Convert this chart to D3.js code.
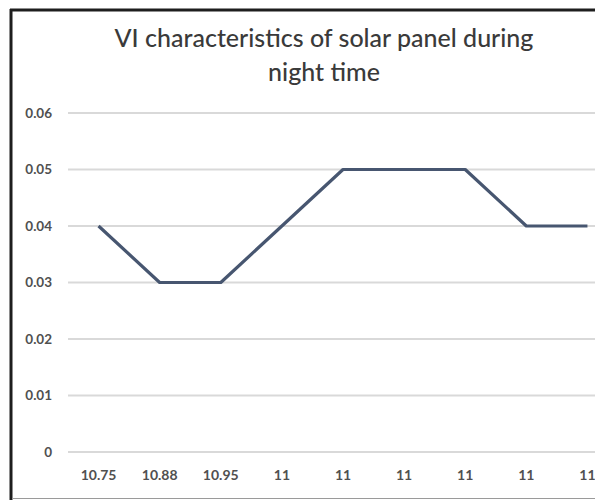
<!DOCTYPE html>
<html>
<head>
<meta charset="utf-8">
<script src="https://cdn.jsdelivr.net/npm/d3@7"></script>
<style>
  html, body { margin: 0; padding: 0; background: #fff; overflow: hidden; }
  svg { display: block; }
</style>
</head>
<body>
<svg id="chart" width="595" height="501"></svg>
<script>
const titleLines = ["VI characteristics of solar panel during", "night time"];
const categories = ["10.75", "10.88", "10.95", "11", "11", "11", "11", "11", "11"];
const values = [0.04, 0.03, 0.03, 0.04, 0.05, 0.05, 0.05, 0.04, 0.04];
const yTicks = [0, 0.01, 0.02, 0.03, 0.04, 0.05, 0.06];

const svg = d3.select("#chart");
const W = 595, H = 501;
const font = "Lato, 'Open Sans', sans-serif";

svg.append("rect").attr("width", W).attr("height", H).attr("fill", "#fff");

// frame
svg.append("line").attr("x1", 11).attr("x2", 11).attr("y1", 9).attr("y2", 500)
  .attr("stroke", "#1e1e1e").attr("stroke-width", 3);
svg.append("line").attr("x1", 10).attr("x2", W).attr("y1", 10).attr("y2", 10)
  .attr("stroke", "#1e1e1e").attr("stroke-width", 3);
svg.append("line").attr("x1", 12).attr("x2", W).attr("y1", 498.5).attr("y2", 498.5)
  .attr("stroke", "#9a9a9a").attr("stroke-width", 1.2);

const x = d3.scaleBand().domain(d3.range(categories.length)).range([68, 618]);
const y = d3.scaleLinear().domain([0, 0.06]).range([452, 113]);

// gridlines
svg.append("g").selectAll("line").data(yTicks).join("line")
  .attr("x1", 68).attr("x2", 618)
  .attr("y1", d => y(d)).attr("y2", d => y(d))
  .attr("stroke", "#d9d9d9").attr("stroke-width", 1.8);

// y axis
const yAxis = d3.axisLeft(y).tickValues(yTicks).tickSize(0).tickPadding(0)
  .tickFormat(d => d === 0 ? "0" : d3.format(".2f")(d));
const gy = svg.append("g").attr("transform", "translate(52,0)").call(yAxis);
gy.select(".domain").remove();
gy.selectAll("text").attr("font-family", font).attr("font-size", 13.5)
  .attr("font-weight", 700).attr("fill", "#505050");

// x axis
const xAxis = d3.axisBottom(x).tickSize(0).tickPadding(0)
  .tickFormat(i => categories[i]);
const gx = svg.append("g").attr("transform", "translate(0,470)").call(xAxis);
gx.select(".domain").remove();
gx.selectAll("text").attr("font-family", font).attr("font-size", 14)
  .attr("font-weight", 700).attr("fill", "#505050");

// line
const line = d3.line().x((d, i) => x(i) + x.bandwidth() / 2).y(d => y(d));
svg.append("path").datum(values).attr("d", line)
  .attr("fill", "none").attr("stroke", "#475670").attr("stroke-width", 3.2)
  .attr("stroke-linejoin", "round");

// title
svg.append("g").selectAll("text").data(titleLines).join("text")
  .attr("x", 324).attr("y", (d, i) => 47 + i * 34)
  .attr("text-anchor", "middle")
  .attr("font-family", font).attr("font-size", 25)
  .attr("font-weight", 500)
  .attr("fill", "#3a3a3a")
  .text(d => d);
</script>
</body>
</html>
